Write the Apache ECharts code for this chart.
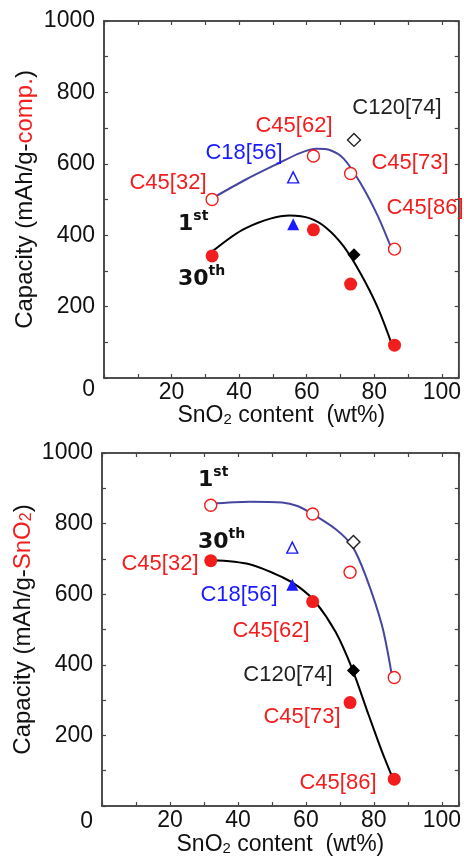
<!DOCTYPE html>
<html>
<head>
<meta charset="utf-8">
<script src="https://cdn.jsdelivr.net/npm/echarts@6/dist/echarts.min.js"></script>
<style>
  html, body { margin: 0; padding: 0; background: #fff; }
  #main { width: 464px; height: 857px; }
</style>
</head>
<body>
<div id="main"></div>
<script>
// ---- data ----
// top panel: capacity per gram of composite
const compFirstC45 = [[32, 500], [62, 622], [73, 573], [86, 361]]
const compFirstC18 = [[56, 562]]
const compFirstC120 = [[74, 667]]
const compLastC45 = [[32, 342], [62, 415], [73, 263], [86, 92]]
const compLastC18 = [[56, 431]]
const compLastC120 = [[74, 345]]
// fitted guide curves
const compFirstFit = [[32, 503], [42, 556], [52, 603], [58, 630], [63, 642], [67, 638], [71, 614], [76, 545], [81, 455], [85, 365]]
const compLastFit = [[32, 354], [42, 420], [55, 455], [61, 447], [66, 419], [71, 368], [76, 292], [81, 198], [85, 100]]

// bottom panel: capacity per gram of SnO2
const snFirstC45 = [[32, 852], [62, 827], [73, 662], [86, 364]]
const snFirstC18 = [[56, 732]]
const snFirstC120 = [[74, 748]]
const snLastC45 = [[32, 695], [62, 579], [73, 293], [86, 76]]
const snLastC18 = [[56, 627]]
const snLastC120 = [[74, 384]]
const snFirstFit = [[32, 856], [43.5, 862], [53, 860], [57.5, 850], [62, 827], [68.8, 784], [73.6, 737], [77.6, 652], [82.4, 511], [85.3, 370]]
const snLastFit = [[32.2, 697], [43.4, 685], [53.1, 648], [58, 620], [62.9, 577], [68.8, 492], [73.6, 389], [78.5, 257], [82.4, 154], [85.8, 73]]

const xLabels = [20, 40, 60, 80, 100]
const yLabels = [200, 400, 600, 800, 1000]

const FONT = 'Liberation Sans'
const RED = '#f21d1d'
const BLUE = '#1a1aff'
const CURVE_BLUE = '#4646a0'

const frameLine = {show: true, onZero: false, lineStyle: {color: '#444', width: 1.5}}
const frameTick = {show: true, inside: true, length: 4, lineStyle: {color: '#444', width: 1.2}}

function xAxisPair(grid, title) {
    return [{
        type: 'value', gridIndex: grid, position: 'bottom', min: 0, max: 105, interval: 10,
        axisLine: frameLine,
        axisTick: frameTick,
        axisLabel: {
            margin: 3, color: '#111', fontSize: 23, fontFamily: FONT,
            formatter: v => xLabels.indexOf(v) >= 0 ? String(v) : ''
        },
        splitLine: {show: false},
        name: title, nameLocation: 'middle', nameGap: grid === 0 ? 26 : 27,
        nameMoveOverlap: false,
        nameTextStyle: {
            color: '#111', fontSize: 23, fontFamily: FONT,
            rich: {
                k: {fontSize: 23, fontFamily: FONT, color: '#111'},
                s: {fontSize: 15, fontFamily: FONT, color: '#111', verticalAlign: 'bottom', padding: [8, 0, 0, 0]}
            }
        }
    }, {
        type: 'value', gridIndex: grid, position: 'top', min: 0, max: 105, interval: 10,
        axisLine: frameLine,
        axisTick: frameTick,
        axisLabel: {show: false},
        splitLine: {show: false}
    }]
}

function yAxisPair(grid, title) {
    return [{
        type: 'value', gridIndex: grid, position: 'left', min: 0, max: 1000, interval: 100,
        axisLine: frameLine,
        axisTick: frameTick,
        axisLabel: {
            margin: 9, color: '#111', fontSize: 23, fontFamily: FONT,
            formatter: v => yLabels.indexOf(v) >= 0 ? String(v) : ''
        },
        splitLine: {show: false},
        name: title, nameLocation: 'middle', nameRotate: 90, nameGap: 67,
        nameMoveOverlap: false,
        nameTextStyle: {
            fontSize: 24, fontFamily: FONT,
            rich: {
                k: {fontSize: 24, fontFamily: FONT, color: '#111'},
                r: {fontSize: 24, fontFamily: FONT, color: RED},
                rs: {fontSize: 16, fontFamily: FONT, color: RED, verticalAlign: 'bottom', padding: [8, 0, 0, 0]}
            }
        }
    }, {
        type: 'value', gridIndex: grid, position: 'right', min: 0, max: 1000, interval: 100,
        axisLine: frameLine,
        axisTick: frameTick,
        axisLabel: {show: false},
        splitLine: {show: false}
    }]
}

function fitLine(data, color, xi, yi) {
    return {
        type: 'line', data: data, xAxisIndex: xi, yAxisIndex: yi, smooth: 0.3,
        symbol: 'none', lineStyle: {color: color, width: 2}, z: 2, silent: true
    }
}

function dots(data, symbol, size, fill, stroke, xi, yi) {
    return {
        type: 'scatter', data: data, xAxisIndex: xi, yAxisIndex: yi,
        symbol: symbol, symbolSize: size,
        itemStyle: {color: fill, borderColor: stroke, borderWidth: fill === '#fff' ? 1.4 : 0, opacity: 1},
        z: 5
    }
}

function tag(text, x, y, color, align) {
    return {
        type: 'text', x: x, y: y, z: 10,
        style: {text: text, fill: color, font: '22px "Liberation Sans"', align: align || 'center', verticalAlign: 'middle'}
    }
}

function cycle(n, sup, x, y) {
    return {
        type: 'text', x: x, y: y, z: 10,
        style: {
            text: '{a|' + n + '}{b|' + sup + '}', align: 'left', verticalAlign: 'middle',
            rich: {
                a: {font: 'bold 22px "DejaVu Sans"', fill: '#111', lineHeight: 26, verticalAlign: 'bottom'},
                b: {font: 'bold 14px "DejaVu Sans"', fill: '#111', lineHeight: 26, verticalAlign: 'top', padding: [0, 0, 6, 0]}
            }
        }
    }
}

const chart = echarts.init(document.getElementById('main'))

const option = {
    backgroundColor: '#fff',
    animation: false,
    grid: [
        {left: 104, top: 21, width: 358, height: 357, show: true, borderColor: '#444', borderWidth: 1.5},
        {left: 102, top: 453, width: 358, height: 355, show: true, borderColor: '#444', borderWidth: 1.5}
    ],
    xAxis: [
        ...xAxisPair(0, '{k|SnO}{s|2}{k| content  (wt%)}'),
        ...xAxisPair(1, '{k|SnO}{s|2}{k| content  (wt%)}')
    ],
    yAxis: [
        ...yAxisPair(0, '{k|Capacity (mAh/g-}{r|comp.}{k|)}'),
        ...yAxisPair(1, '{k|Capacity (mAh/g-}{r|SnO}{rs|2}{k|)}')
    ],
    series: [
        // top panel
        fitLine(compFirstFit, CURVE_BLUE, 0, 0),
        fitLine(compLastFit, '#000', 0, 0),
        dots(compFirstC45, 'circle', 12, '#fff', RED, 0, 0),
        dots(compFirstC18, 'triangle', 11, '#fff', BLUE, 0, 0),
        dots(compFirstC120, 'diamond', 13, '#fff', '#222', 0, 0),
        dots(compLastC45, 'circle', 13, RED, RED, 0, 0),
        dots(compLastC18, 'triangle', 12, BLUE, BLUE, 0, 0),
        dots(compLastC120, 'diamond', 13, '#000', '#000', 0, 0),
        // bottom panel
        fitLine(snFirstFit, CURVE_BLUE, 2, 2),
        fitLine(snLastFit, '#000', 2, 2),
        dots(snFirstC45, 'circle', 12, '#fff', RED, 2, 2),
        dots(snFirstC18, 'triangle', 11, '#fff', BLUE, 2, 2),
        dots(snFirstC120, 'diamond', 13, '#fff', '#222', 2, 2),
        dots(snLastC45, 'circle', 13, RED, RED, 2, 2),
        dots(snLastC18, 'triangle', 12, BLUE, BLUE, 2, 2),
        dots(snLastC120, 'diamond', 13, '#000', '#000', 2, 2)
    ],
    graphic: [
        // shared origin labels
        {type: 'text', x: 95, y: 390, style: {text: '0', fill: '#111', font: '23px "Liberation Sans"', align: 'right', verticalAlign: 'middle'}},
        {type: 'text', x: 93, y: 822, style: {text: '0', fill: '#111', font: '23px "Liberation Sans"', align: 'right', verticalAlign: 'middle'}},
        // top panel annotations
        tag('C45[32]', 168, 183, RED),
        tag('C18[56]', 244, 153, BLUE),
        tag('C45[62]', 294, 126, RED),
        tag('C120[74]', 397, 108, '#222'),
        tag('C45[73]', 410, 163, RED),
        tag('C45[86]', 425, 208, RED),
        cycle('1', 'st', 178, 222),
        cycle('30', 'th', 178, 277),
        // bottom panel annotations
        cycle('1', 'st', 198, 478),
        cycle('30', 'th', 198, 540),
        tag('C45[32]', 160, 564, RED),
        tag('C18[56]', 239, 595, BLUE),
        tag('C45[62]', 271, 631, RED),
        tag('C120[74]', 288, 675, '#222'),
        tag('C45[73]', 302, 717, RED),
        tag('C45[86]', 338, 783, RED)
    ]
}

chart.setOption(option)
</script>
</body>
</html>
